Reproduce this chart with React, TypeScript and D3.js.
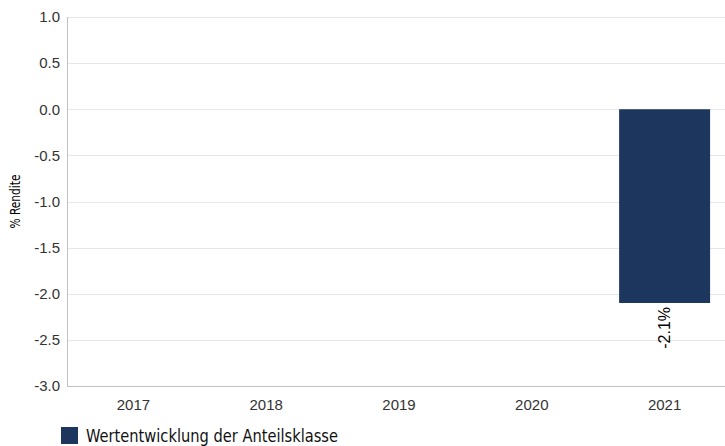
import * as d3 from "d3"
import { useEffect, useRef } from "react"

const years = ["2017", "2018", "2019", "2020", "2021"]
const returns: Array<number | null> = [null, null, null, null, -2.1]
const yTicks = [1.0, 0.5, 0.0, -0.5, -1.0, -1.5, -2.0, -2.5, -3.0]
const yDomain = [-3, 1]
const seriesName = "Wertentwicklung der Anteilsklasse"
const axisTitle = "% Rendite"

const WIDTH = 725
const HEIGHT = 446
const BAR_COLOR = "#1c365e"
const SANS = "'Liberation Sans', Arial, sans-serif"
const CONDENSED = "'DejaVu Sans Condensed', 'Liberation Sans Narrow', sans-serif"

const App = () => {
  const svgRef = useRef<SVGSVGElement>(null)

  useEffect(() => {
    if (!svgRef.current) return
    d3.select(svgRef.current).selectAll("*").remove()

    const MARGIN = { top: 17, right: -6, bottom: 60, left: 67 }
    const svg = d3.select(svgRef.current)

    const xScale = d3
      .scaleBand()
      .domain(years)
      .range([MARGIN.left, WIDTH - MARGIN.right])
      .paddingInner(0.315)
      .paddingOuter(0.1575)

    const yScale = d3
      .scaleLinear()
      .domain(yDomain)
      .range([HEIGHT - MARGIN.bottom, MARGIN.top])

    // grid lines
    svg
      .selectAll("line.grid")
      .data(yTicks)
      .join("line")
      .attr("class", "grid")
      .attr("x1", MARGIN.left)
      .attr("x2", WIDTH - MARGIN.right)
      .attr("y1", (d) => Math.round(yScale(d)) + 0.5)
      .attr("y2", (d) => Math.round(yScale(d)) + 0.5)
      .attr("stroke", "#e6e6e6")
      .attr("stroke-width", 1)

    // y tick labels
    svg
      .selectAll("text.ytick")
      .data(yTicks)
      .join("text")
      .attr("class", "ytick")
      .attr("x", MARGIN.left - 7)
      .attr("y", (d) => yScale(d))
      .attr("dy", "0.35em")
      .attr("text-anchor", "end")
      .attr("font-family", SANS)
      .attr("font-size", "15px")
      .attr("fill", "#333")
      .text((d) => d.toFixed(1))

    // axis lines
    svg
      .append("line")
      .attr("x1", MARGIN.left + 0.5)
      .attr("x2", MARGIN.left + 0.5)
      .attr("y1", MARGIN.top)
      .attr("y2", yScale(yDomain[0]))
      .attr("stroke", "#c0c0c0")
    svg
      .append("line")
      .attr("x1", MARGIN.left)
      .attr("x2", WIDTH - MARGIN.right)
      .attr("y1", Math.round(yScale(yDomain[0])) + 0.5)
      .attr("y2", Math.round(yScale(yDomain[0])) + 0.5)
      .attr("stroke", "#c0c0c0")

    // x labels
    svg
      .selectAll("text.xtick")
      .data(years)
      .join("text")
      .attr("class", "xtick")
      .attr("x", (d) => (xScale(d) ?? 0) + xScale.bandwidth() / 2)
      .attr("y", yScale(yDomain[0]) + 24)
      .attr("text-anchor", "middle")
      .attr("font-family", SANS)
      .attr("font-size", "15px")
      .attr("fill", "#333")
      .text((d) => d)

    const data = years
      .map((y, i) => ({ year: y, value: returns[i] }))
      .filter((d) => d.value !== null) as { year: string; value: number }[]

    svg
      .selectAll("rect.bar")
      .data(data)
      .join("rect")
      .attr("class", "bar")
      .attr("x", (d) => xScale(d.year) ?? 0)
      .attr("width", xScale.bandwidth())
      .attr("y", (d) => yScale(Math.max(0, d.value)))
      .attr("height", (d) => Math.abs(yScale(d.value) - yScale(0)))
      .attr("fill", BAR_COLOR)

    // value labels
    svg
      .selectAll("text.value")
      .data(data)
      .join("text")
      .attr("class", "value")
      .attr(
        "transform",
        (d) =>
          `translate(${(xScale(d.year) ?? 0) + xScale.bandwidth() / 2}, ${yScale(d.value) + 4}) rotate(-90)`,
      )
      .attr("text-anchor", "end")
      .attr("dy", "0.35em")
      .attr("font-family", SANS)
      .attr("font-size", "16px")
      .attr("fill", "#000")
      .text((d) => `${d.value.toFixed(1)}%`)

    // y axis title
    svg
      .append("text")
      .attr(
        "transform",
        `translate(20, ${(MARGIN.top + yScale(yDomain[0])) / 2}) rotate(-90)`,
      )
      .attr("text-anchor", "middle")
      .attr("font-family", CONDENSED)
      .attr("font-size", "14px")
      .attr("textLength", 54)
      .attr("lengthAdjust", "spacingAndGlyphs")
      .attr("fill", "#000")
      .text(axisTitle)

    // legend
    const legend = svg.append("g").attr("transform", `translate(61, 427)`)
    legend
      .append("rect")
      .attr("width", 17)
      .attr("height", 17)
      .attr("fill", BAR_COLOR)
    legend
      .append("text")
      .attr("x", 25)
      .attr("y", 15)
      .attr("font-family", CONDENSED)
      .attr("font-size", "17px")
      .attr("textLength", 252)
      .attr("lengthAdjust", "spacingAndGlyphs")
      .attr("fill", "#111")
      .text(seriesName)
  }, [])

  return (
    <svg
      ref={svgRef}
      width={WIDTH}
      height={HEIGHT}
      style={{ position: "absolute", left: 0, top: 0, display: "block" }}
    />
  )
}

export default App
